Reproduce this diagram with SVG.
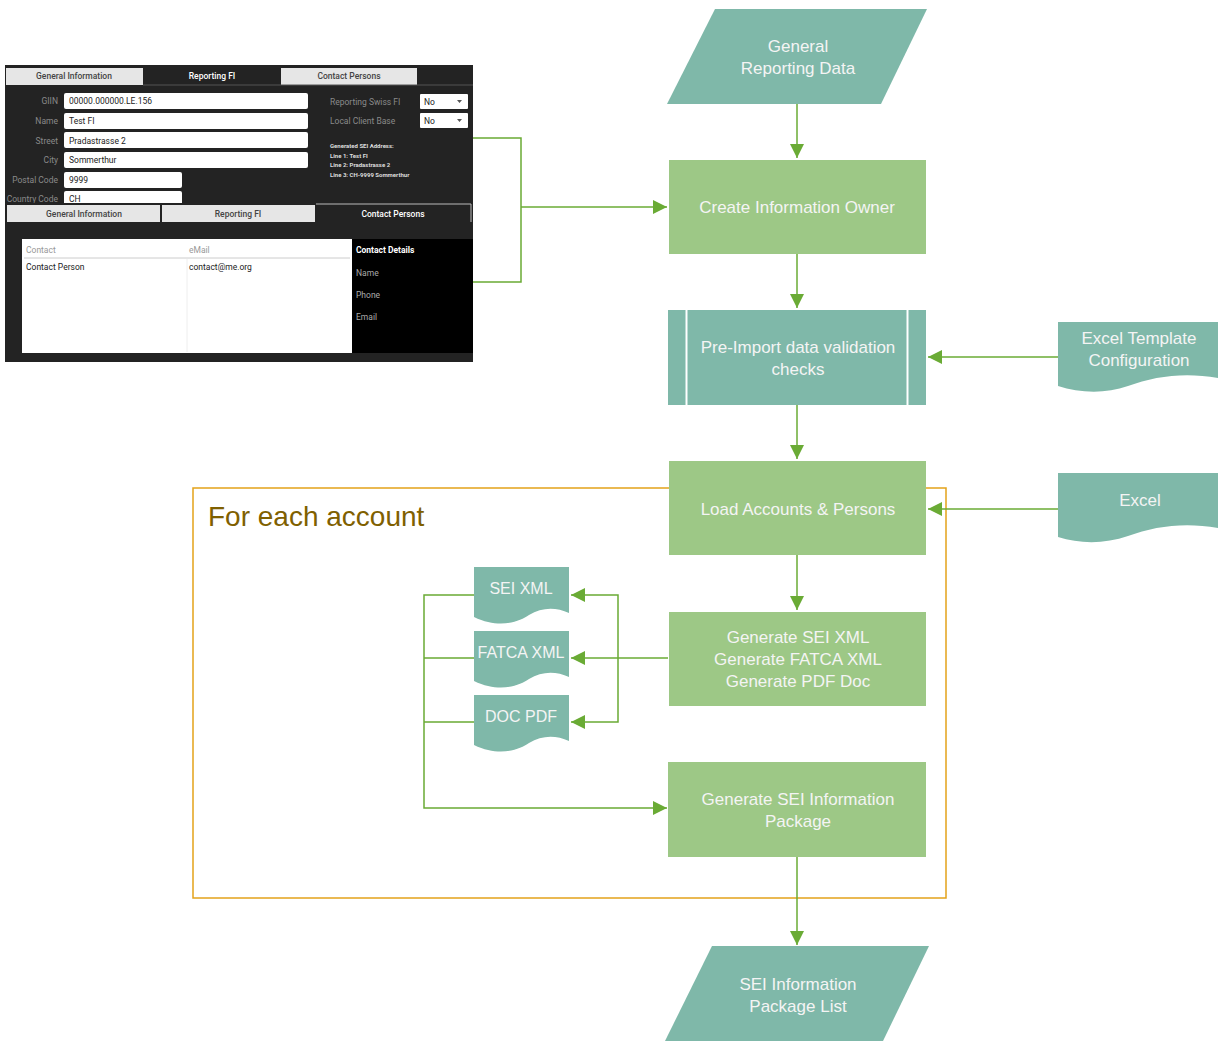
<svg xmlns="http://www.w3.org/2000/svg" width="1218" height="1046" viewBox="0 0 1218 1046">
<style>
.teal{fill:#7fb8a9}
.green{fill:#9dc886}
.lbl{font-family:"Liberation Sans",Arial,sans-serif;font-size:17px;fill:#f4f4f4;text-anchor:middle}
.dl{font-size:16px}
.conn{fill:none;stroke:#6aab35;stroke-width:1.5}
.ui{font-family:Roboto,"Liberation Sans",sans-serif;font-size:8.5px}
.lab{fill:#8a8a8a;text-anchor:end}
.val{fill:#222}
.tab{fill:#e6e6e6}
.tabt{fill:#444;text-anchor:middle;font-weight:500}
.tabta{fill:#fff;text-anchor:middle;font-weight:500}
</style>
<defs>
<marker id="ah" markerUnits="userSpaceOnUse" markerWidth="14" markerHeight="14" refX="14" refY="7" orient="auto">
<path d="M0,0 L14,7 L0,14 z" fill="#6aab35"/>
</marker>
<path id="doc" d="M0,0 H95 V46 C82,40 68,40 55,48 C45,55 25,62 0,50 Z"/>
</defs>
<rect width="1218" height="1046" fill="#fff"/>

<g id="screenshot">
<rect x="5" y="65" width="468" height="297" fill="#232323"/>
<rect class="tab" x="6" y="68" width="137" height="17"/>
<text class="ui tabt" x="74" y="79">General Information</text>
<text class="ui tabta" x="212" y="79">Reporting FI</text>
<rect class="tab" x="281" y="68" width="136" height="17"/>
<text class="ui tabt" x="349" y="79">Contact Persons</text>
<line x1="143" y1="85" x2="473" y2="85" stroke="#555" stroke-width="1"/>
<g class="ui">
<text class="lab" x="58" y="104">GIIN</text>
<text class="lab" x="58" y="124">Name</text>
<text class="lab" x="58" y="144">Street</text>
<text class="lab" x="58" y="163">City</text>
<text class="lab" x="58" y="183">Postal Code</text>
<text class="lab" x="58" y="202">Country Code</text>
<rect x="64" y="93" width="244" height="16" rx="2" fill="#fff"/>
<rect x="64" y="113" width="244" height="16" rx="2" fill="#fff"/>
<rect x="64" y="132" width="244" height="16" rx="2" fill="#fff"/>
<rect x="64" y="152" width="244" height="16" rx="2" fill="#fff"/>
<rect x="64" y="172" width="118" height="16" rx="2" fill="#fff"/>
<rect x="64" y="191" width="118" height="14" rx="2" fill="#fff"/>
<text class="val" x="69" y="104">00000.000000.LE.156</text>
<text class="val" x="69" y="124">Test FI</text>
<text class="val" x="69" y="144">Pradastrasse 2</text>
<text class="val" x="69" y="163">Sommerthur</text>
<text class="val" x="69" y="183">9999</text>
<text class="val" x="69" y="202">CH</text>
<text fill="#8a8a8a" x="330" y="105">Reporting Swiss FI</text>
<text fill="#8a8a8a" x="330" y="124">Local Client Base</text>
<rect x="420" y="94" width="48" height="15" rx="1" fill="#fff"/>
<rect x="420" y="113" width="48" height="15" rx="1" fill="#fff"/>
<text class="val" x="424" y="105">No</text>
<text class="val" x="424" y="124">No</text>
<path d="M457,100 h5 l-2.5,3 z M457,119 h5 l-2.5,3 z" fill="#555"/>
<g font-size="6" font-weight="bold" fill="#ddd">
<text x="330" y="148">Generated SEI Address:</text>
<text x="330" y="158">Line 1: Test FI</text>
<text x="330" y="167">Line 2: Pradastrasse 2</text>
<text x="330" y="177">Line 3: CH-9999 Sommerthur</text>
</g>
</g>
<rect x="5" y="203" width="468" height="159" fill="#232323"/>
<rect class="tab" x="7" y="205" width="153" height="17"/>
<rect class="tab" x="162" y="205" width="153" height="17"/>
<line x1="316" y1="204" x2="471" y2="204" stroke="#bbb" stroke-width="1"/>
<line x1="471" y1="204" x2="471" y2="222" stroke="#bbb" stroke-width="1"/>
<text class="ui tabt" x="84" y="217">General Information</text>
<text class="ui tabt" x="238" y="217">Reporting FI</text>
<text class="ui tabta" x="393" y="217">Contact Persons</text>
<rect x="22" y="239" width="330" height="114" fill="#fff"/>
<line x1="24" y1="258" x2="350" y2="258" stroke="#ccc" stroke-width="1"/>
<line x1="187" y1="259" x2="187" y2="352" stroke="#eee" stroke-width="1"/>
<rect x="352" y="239" width="121" height="114" fill="#000"/>
<g class="ui">
<text fill="#999" x="26" y="253">Contact</text>
<text fill="#999" x="189" y="253">eMail</text>
<text class="val" x="26" y="270">Contact Person</text>
<text class="val" x="189" y="270">contact@me.org</text>
<text fill="#fff" font-weight="bold" x="356" y="253">Contact Details</text>
<text fill="#aaa" x="356" y="276">Name</text>
<text fill="#aaa" x="356" y="298">Phone</text>
<text fill="#aaa" x="356" y="320">Email</text>
</g>
</g>

<g id="loop-box">
<rect x="193" y="488" width="753" height="410" fill="none" stroke="#e3a21a" stroke-width="1.5"/>
<text x="208" y="526" font-family="Liberation Sans,Arial,sans-serif" font-size="28" fill="#7f6000">For each account</text>
</g>

<g id="connectors">
<path class="conn" d="M473,138 H521 V282 H473"/>
<path class="conn" d="M521,207 H667" marker-end="url(#ah)"/>
<path class="conn" d="M797,104 V158" marker-end="url(#ah)"/>
<path class="conn" d="M797,254 V308" marker-end="url(#ah)"/>
<path class="conn" d="M797,405 V459" marker-end="url(#ah)"/>
<path class="conn" d="M797,555 V610" marker-end="url(#ah)"/>
<path class="conn" d="M797,857 V945" marker-end="url(#ah)"/>
<path class="conn" d="M1058,357 H928" marker-end="url(#ah)"/>
<path class="conn" d="M1058,509 H928" marker-end="url(#ah)"/>
<path class="conn" d="M668,658 H571" marker-end="url(#ah)"/>
<path class="conn" d="M618,658 V595 H571" marker-end="url(#ah)"/>
<path class="conn" d="M618,658 V722 H571" marker-end="url(#ah)"/>
<path class="conn" d="M474,595 H424 V808 H667" marker-end="url(#ah)"/>
<path class="conn" d="M474,658 H424 M474,722 H424"/>
</g>

<g id="general-reporting-data">
<polygon class="teal" points="715,9 927,9 881,104 667,104"/>
<text class="lbl" x="798" y="52">General</text>
<text class="lbl" x="798" y="74">Reporting Data</text>
</g>
<g id="create-information-owner">
<rect class="green" x="669" y="160" width="257" height="94"/>
<text class="lbl" x="797" y="213">Create Information Owner</text>
</g>
<g id="pre-import">
<rect class="teal" x="668" y="310" width="258" height="95"/>
<line x1="686.5" y1="310" x2="686.5" y2="405" stroke="#fff" stroke-width="2"/>
<line x1="907.5" y1="310" x2="907.5" y2="405" stroke="#fff" stroke-width="2"/>
<text class="lbl" x="798" y="353">Pre-Import data validation</text>
<text class="lbl" x="798" y="375">checks</text>
</g>
<g id="excel-template">
<path class="teal" d="M1058,322 H1218 V378 C1185,372 1155,376 1128,386 C1105,394 1080,393 1058,386 Z"/>
<text class="lbl" x="1139" y="344">Excel Template</text>
<text class="lbl" x="1139" y="366">Configuration</text>
</g>
<g id="load-accounts">
<rect class="green" x="669" y="461" width="257" height="94"/>
<text class="lbl" x="798" y="515">Load Accounts &amp; Persons</text>
</g>
<g id="excel">
<path class="teal" d="M1058,473 H1218 V528 C1185,522 1155,526 1128,536 C1105,544 1080,544 1058,537 Z"/>
<text class="lbl" x="1140" y="506">Excel</text>
</g>
<g id="generate-xml">
<rect class="green" x="669" y="612" width="257" height="94"/>
<text class="lbl" x="798" y="643">Generate SEI XML</text>
<text class="lbl" x="798" y="665">Generate FATCA XML</text>
<text class="lbl" x="798" y="687">Generate PDF Doc</text>
</g>
<g id="sei-xml">
<use href="#doc" class="teal" x="474" y="567"/>
<text class="lbl dl" x="521" y="594">SEI XML</text>
</g>
<g id="fatca-xml">
<use href="#doc" class="teal" x="474" y="631"/>
<text class="lbl dl" x="521" y="658">FATCA XML</text>
</g>
<g id="doc-pdf">
<use href="#doc" class="teal" x="474" y="695"/>
<text class="lbl dl" x="521" y="722">DOC PDF</text>
</g>
<g id="generate-package">
<rect class="green" x="668" y="762" width="258" height="95"/>
<text class="lbl" x="798" y="805">Generate SEI Information</text>
<text class="lbl" x="798" y="827">Package</text>
</g>
<g id="package-list">
<polygon class="teal" points="712,946 929,946 883,1041 665,1041"/>
<text class="lbl" x="798" y="990">SEI Information</text>
<text class="lbl" x="798" y="1012">Package List</text>
</g>
</svg>
